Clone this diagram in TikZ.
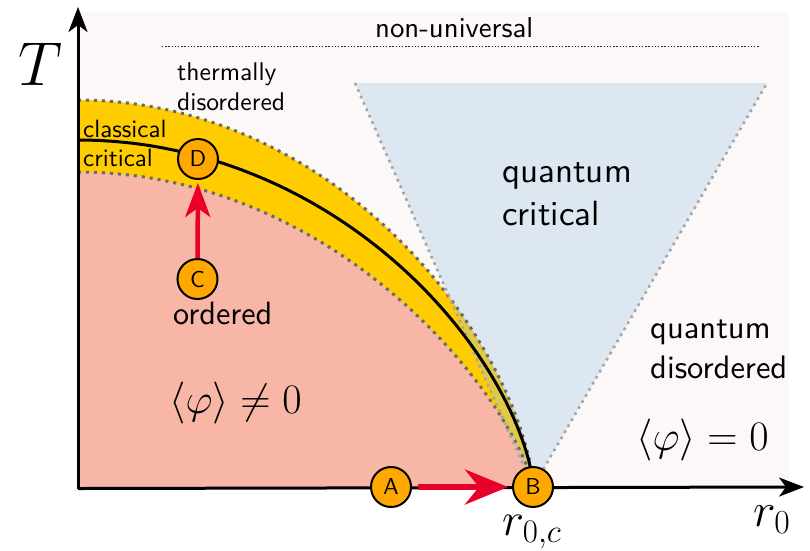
\RequirePackage{fix-cm}
\documentclass[tikz,border=0pt]{standalone}
\usepackage{fontspec}
\newfontfamily\sfx{lmsans10-regular.otf}
\usetikzlibrary{arrows.meta}
\definecolor{bgc}{RGB}{252,248,247}
\definecolor{pinkc}{RGB}{247,182,166}
\definecolor{yellowc}{RGB}{255,204,0}
\definecolor{bluec}{RGB}{150,195,232}
\definecolor{orangec}{RGB}{255,168,0}
\definecolor{redc}{RGB}{232,0,42}
\definecolor{dotdark}{RGB}{105,105,105}
\definecolor{dotlight}{RGB}{165,165,165}
\begin{document}
\begin{tikzpicture}[x=1pt,y=-1pt,
  stage/.style={circle,draw=black,line width=2pt,fill=orangec,minimum size=40pt,inner sep=0pt,
    font=\sfx\fontsize{23}{23}\selectfont},
  lbl/.style={anchor=base west,inner sep=0pt},
  txtS/.style={lbl,font=\sfx\fontsize{25.6}{30}\selectfont},
  txtM/.style={lbl,font=\sfx\fontsize{32.5}{38}\selectfont},
  txtL/.style={lbl,font=\sfx\fontsize{35}{42}\selectfont},
  axisline/.style={line width=3pt,-{Stealth[length=25pt,width=19pt,inset=7pt]}},
  banddots/.style={dotdark,line width=3pt,dash pattern=on 3pt off 5pt},
  tridots/.style={dotlight,line width=2.6pt,dash pattern=on 2.6pt off 4.4pt},
  finedots/.style={black!85,line width=1.4pt,dash pattern=on 1.4pt off 1.8pt},
  critline/.style={line width=3pt,black},
  redarrow/.style={redc,line width=4.5pt}
]
\useasboundingbox (0,0) rectangle (810,550);
% background
\fill[bgc] (78,11) rectangle (789,487);
% yellow band and ordered region
\fill[yellowc] (78,487) -- plot[domain=0:89.5,samples=120,variable=\t]
  ({78+455*sin(\t)},{487-387*pow(cos(\t),1.3)}) -- (533,487) -- cycle;
\fill[pinkc] (78,487) -- plot[domain=0:89.5,samples=120,variable=\t]
  ({78+455*sin(\t)},{487-315*pow(cos(\t),1.5)}) -- (533,487) -- cycle;
% quantum critical fan
\fill[bluec,opacity=0.3] (355,83) -- (767,83) -- (533,487) -- cycle;
% band boundaries
\draw[banddots] plot[domain=0:89.5,samples=120,variable=\t]
  ({78+455*sin(\t)},{487-387*pow(cos(\t),1.3)}) -- (533,487);
\draw[banddots] plot[domain=0:89.5,samples=120,variable=\t]
  ({78+455*sin(\t)},{487-315*pow(cos(\t),1.5)}) -- (533,487);
\draw[tridots] (355,83) -- (533,487) -- (767,83);
% critical line
\draw[critline] plot[domain=0:89.5,samples=120,variable=\t]
  ({78+455*sin(\t)},{487-347*pow(cos(\t),1.3)}) -- (533,487);
% non-universal line
\coordinate (nuL) at (162,46.5);
\coordinate (nuR) at (760,46.5);
\draw[finedots] (nuL) -- (nuR);
% axes
\coordinate (O) at (78,488.5);
\coordinate (Xe) at (804,487);
\coordinate (Ye) at (78,7);
\draw[axisline] (O) -- (Xe);
\draw[axisline] (O) -- (Ye);
% stages
\node[stage] (A) at (391,487) {A};
\node[stage] (B) at (533,487) {B};
\node[stage] (C) at (197.5,279) {C};
\node[stage] (D) at (198,159) {D};
\draw[redarrow,-{Stealth[length=34pt,width=25pt,inset=9pt]},shorten >=3pt] (C) -- (D);
\draw[redarrow,line width=6pt,-{Stealth[length=43pt,width=35pt,inset=14pt]},shorten <=6pt,shorten >=4pt] (A) -- (B);
% texts
\node[lbl,font=\sfx\fontsize{28.8}{34}\selectfont] (tnu) at (375,37) {non-universal};
\node[txtS] (tth1) at (177,80) {thermally};
\node[txtS] (tth2) at (177,110) {disordered};
\node[lbl,font=\sfx\fontsize{25}{30}\selectfont] (tcl1) at (83,137) {classical};
\node[lbl,font=\sfx\fontsize{25}{30}\selectfont] (tcl2) at (83,166.5) {critical};
\node[txtL] (tqc1) at (502,182.5) {quantum};
\node[txtL] (tqc2) at (502,225) {critical};
\node[lbl,font=\sfx\fontsize{32.2}{38}\selectfont] (tord) at (173,324) {ordered};
\node[txtM] (tqd1) at (650,338) {quantum};
\node[txtM] (tqd2) at (650,378) {disordered};
\node[lbl,font=\fontsize{42}{50}\selectfont] (mneq) at (169,413) {$\langle\varphi\rangle\neq0$};
\node[lbl,font=\fontsize{42}{50}\selectfont] (meq) at (636,450) {$\langle\varphi\rangle=0$};
\node[lbl,font=\fontsize{62}{70}\selectfont] (tT) at (18,85) {$T$};
\node[lbl,font=\fontsize{48}{54}\selectfont] (tr0) at (753,526) {$r_0$};
\node[lbl,font=\fontsize{47}{54}\selectfont] (tr0c) at (502,535) {$r_{0,c}$};
\end{tikzpicture}
\end{document}
